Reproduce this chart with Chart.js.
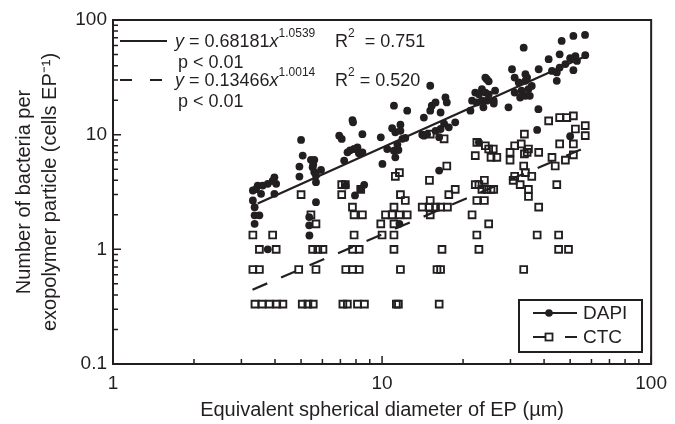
<!DOCTYPE html>
<html lang="en">
<head>
<meta charset="UTF-8">
<title>Bacteria per exopolymer particle</title>
<script src="https://cdn.jsdelivr.net/npm/chart.js"></script>
<style>
  html, body { margin: 0; padding: 0; background: #fff; }
  #wrap { width: 675px; height: 424px; }
</style>
</head>
<body>
<div id="wrap"><canvas id="chart" width="675" height="424"></canvas></div>
<script>
// DAPI counts (filled circles)
const dapiX = [
  3.31, 3.45, 3.60, 3.76, 3.98, 4.04, 3.55, 3.98, 3.31, 3.36, 3.36, 3.50, 3.36, 3.76, 3.40, 3.92,
  5.00, 5.07, 5.44, 5.60, 4.93, 5.52, 5.60, 5.93, 4.93, 5.68, 5.68, 5.68, 5.36, 5.36, 5.37, 5.55,
  6.93, 7.76, 7.80, 7.08, 8.45, 7.44, 7.87, 8.10, 8.20, 8.45, 7.23, 8.58, 8.33, 7.33, 7.93, 7.60,
  9.89, 10.03, 11.07, 12.4, 10.9, 11.7, 11.2, 11.7, 11.9, 12.2, 11.07, 11.5, 11.2, 10.45, 11.6, 11.4,
  15.1, 15.1, 15.3, 15.8, 17.2, 17.4, 16.5, 14.3, 14.1, 14.7, 15.8, 16.5, 17.7, 18.7, 16.3, 14.3, 16.3, 17.0,
  24.2, 24.5, 24.9, 22.2, 22.9, 23.5, 24.2, 24.9, 26.3, 21.6, 22.5, 23.5, 24.5, 26.0, 21.3, 23.8, 26.0, 29.5, 22.9,
  33.6, 30.4, 34.1, 31.1, 32.2, 34.1, 34.6, 36.0, 33.0, 31.1, 32.6, 34.1, 35.4, 35.0, 38.1, 37.7, 38.2,
  46.5, 51.4, 56.8, 45.7, 50.0, 52.3, 56.9, 41.6, 48.0, 42.8, 44.6, 45.7, 51.4, 44.6, 50.0, 53.0
];
const dapiY = [
  3.26, 3.60, 3.60, 3.73, 4.25, 3.73, 3.05, 3.05, 2.67, 2.33, 1.98, 1.98, 1.67, 1.00, 3.35, 3.95,
  9.0, 6.57, 6.03, 6.03, 5.27, 5.20, 4.70, 4.93, 4.31, 4.40, 3.85, 2.58, 1.91, 1.62, 1.32, 5.50,
  9.8, 13.4, 12.8, 9.18, 10.1, 7.01, 7.5, 7.75, 6.87, 7.01, 5.94, 3.65, 3.37, 3.60, 2.95, 7.30,
  9.48, 5.56, 17.9, 16.2, 11.4, 12.2, 10.5, 10.8, 9.2, 9.36, 7.25, 7.35, 6.35, 7.5, 1.67, 8.2,
  26.7, 16.2, 17.9, 19.1, 21.1, 19.1, 15.6, 14.1, 10.0, 10.1, 10.8, 11.2, 11.6, 12.8, 4.86, 9.8, 9.5, 12.5,
  31.5, 30.5, 29.2, 23.3, 22.5, 25.0, 23.3, 22.5, 24.2, 19.8, 19.1, 19.8, 19.8, 19.8, 16.2, 17.3, 18.7, 17.3, 8.6,
  57.4, 37.2, 33.7, 31.5, 28.5, 29.5, 31.5, 26.6, 24.2, 23.3, 21.1, 21.8, 21.8, 25.0, 16.7, 11.0, 37.2,
  65.7, 72.6, 74.1, 50.2, 46.4, 48.5, 49.3, 45.5, 41.3, 36.0, 34.9, 38.5, 36.5, 29.5, 9.7, 44.0
];

// CTC counts (open squares)
const ctcX = [
  3.37, 3.58, 3.81, 4.06, 4.28, 3.31, 3.50, 3.50, 4.04, 3.31, 3.92,
  5.05, 5.30, 5.55, 4.90, 5.68, 5.52, 5.77, 6.03, 5.44, 5.68, 5.00,
  7.15, 7.43, 8.10, 8.60, 7.33, 7.77, 8.22, 7.77, 8.22, 7.87, 7.87, 8.45, 7.76, 7.08, 7.08, 7.30, 8.33,
  11.3, 11.5, 11.7, 11.07, 10.0, 11.07, 9.89, 11.07, 10.3, 10.9, 11.6, 12.4, 11.07, 12.2, 11.7, 11.2, 11.6,
  16.3, 16.0, 16.5, 16.7, 15.1, 14.1, 15.0, 15.8, 16.5, 17.5, 15.1, 17.7, 18.7, 15.0, 17.4, 15.1, 17.0,
  22.9, 22.5, 24.9, 21.6, 22.5, 24.0, 23.5, 24.5, 25.4, 26.0, 22.2, 22.9, 24.0, 22.2, 25.4, 26.7, 22.5, 24.2, 24.9, 25.9,
  33.6, 37.7, 38.2, 35.0, 35.0, 32.6, 30.7, 31.1, 36.0, 34.1, 33.6, 29.9, 29.9, 34.6, 38.2, 31.1, 32.9, 35.0, 33.8, 33.8,
  45.3, 49.3, 45.3, 44.6, 44.0, 48.0, 42.8, 51.4, 45.7, 51.4, 41.6, 45.7, 48.6, 51.4, 56.9, 56.9, 52.3
];
const ctcY = [
  0.333, 0.333, 0.333, 0.333, 0.333, 0.667, 0.667, 1, 1, 1.333, 1.333,
  0.333, 0.333, 0.333, 0.667, 0.667, 1, 1, 1, 2, 1.667, 3,
  0.333, 0.333, 0.333, 0.333, 0.667, 0.667, 0.667, 1, 1, 1.333, 2, 2, 2.333, 3, 3.667, 3.667, 3.333,
  0.333, 0.333, 0.667, 1, 1.333, 1.333, 1.667, 1.667, 2, 2, 2, 2, 2.333, 2.667, 3, 4.333, 4.667,
  0.333, 0.667, 0.667, 1, 2, 2.333, 2.333, 2.333, 2.333, 2.333, 2.667, 3, 3.333, 4, 5.333, 10.1, 9.2,
  1, 1.333, 1.667, 2, 2.667, 2.667, 3.333, 3.333, 3.333, 3.333, 3.667, 3.667, 4, 6.57, 6.35, 6.35, 8.56, 8.0, 7.5, 7.5,
  0.667, 1.333, 2.333, 2.89, 3.333, 3.667, 4, 4.333, 4.333, 4.667, 5.333, 6.0, 7.0, 7.0, 7.0, 8.0, 8.3, 7.5, 10.1, 6.8,
  1, 1, 1.333, 3.667, 5.333, 6.0, 6.333, 6.667, 8.3, 8.3, 13.2, 14.1, 14.1, 14.6, 12.0, 9.8, 11.2
];

// regression lines: end points on y = 0.68181x^1.0539 and y = 0.13466x^1.0014
const dapiFitX = [3.45, 57.5];
const dapiFitY = [2.51, 48.8];
const ctcFitX = [3.3, 57.5];
const ctcFitY = [0.445, 7.79];

const xTicks = [1, 10, 100];
const yTicks = [0.1, 1, 10, 100];

const ink = '#231f20';
const fam = '"Liberation Sans", Arial, Helvetica, sans-serif';

function pts(xs, ys) {
  return xs.map((x, i) => ({ x: x, y: ys[i] }));
}

// draw a row of text pieces left to right
function runText(ctx, x, y, parts) {
  parts.forEach(p => {
    ctx.font = p.font;
    ctx.fillText(p.t, x, y + (p.dy || 0));
    x += ctx.measureText(p.t).width;
  });
  return x;
}

const decorations = {
  id: 'decorations',
  afterDatasetsDraw(chart) {
    const ctx = chart.ctx, a = chart.chartArea;
    const xs = chart.scales.x, ys = chart.scales.y;
    ctx.save();
    ctx.strokeStyle = ink;
    ctx.fillStyle = ink;

    // frame
    ctx.lineWidth = 2;
    ctx.strokeRect(a.left, a.top, a.right - a.left, a.bottom - a.top);

    // inward ticks on bottom and left axes
    ctx.lineWidth = 1.5;
    ctx.beginPath();
    for (let d = 1; d < 100; d *= 10) {
      for (let k = 1; k <= 10; k++) {
        const px = xs.getPixelForValue(d * k);
        const len = (k === 1 || k === 10) ? 8 : 5;
        ctx.moveTo(px, a.bottom);
        ctx.lineTo(px, a.bottom - len);
      }
    }
    for (let d = 0.1; d < 99; d *= 10) {
      for (let k = 1; k <= 10; k++) {
        const py = ys.getPixelForValue(d * k);
        const len = (k === 1 || k === 10) ? 8 : 5;
        ctx.moveTo(a.left, py);
        ctx.lineTo(a.left + len, py);
      }
    }
    ctx.stroke();

    // regression equations, top left
    const main = '18px ' + fam, ital = 'italic 18px ' + fam, sup = '12px ' + fam;
    ctx.textBaseline = 'middle';
    ctx.textAlign = 'left';

    ctx.lineWidth = 2;
    ctx.beginPath();
    ctx.moveTo(120, 41); ctx.lineTo(167, 41);
    ctx.stroke();
    runText(ctx, 175, 42, [
      { t: 'y', font: ital }, { t: ' = 0.68181', font: main },
      { t: 'x', font: ital }, { t: '1.0539', font: sup, dy: -8 }
    ]);
    runText(ctx, 335, 42, [
      { t: 'R', font: main }, { t: '2', font: sup, dy: -8 }, { t: '  = 0.751', font: main }
    ]);
    runText(ctx, 178, 63, [{ t: 'p < 0.01', font: main }]);

    ctx.setLineDash([12, 18]);
    ctx.beginPath();
    ctx.moveTo(120, 80); ctx.lineTo(167, 80);
    ctx.stroke();
    ctx.setLineDash([]);
    runText(ctx, 175, 81, [
      { t: 'y', font: ital }, { t: ' = 0.13466', font: main },
      { t: 'x', font: ital }, { t: '1.0014', font: sup, dy: -8 }
    ]);
    runText(ctx, 335, 81, [
      { t: 'R', font: main }, { t: '2', font: sup, dy: -8 }, { t: ' = 0.520', font: main }
    ]);
    runText(ctx, 178, 102, [{ t: 'p < 0.01', font: main }]);

    // legend box, bottom right inside plot
    ctx.lineWidth = 2;
    ctx.fillStyle = '#fff';
    ctx.fillRect(519, 300, 123, 52);
    ctx.strokeRect(519, 300, 123, 52);
    ctx.fillStyle = ink;
    ctx.beginPath();
    ctx.moveTo(533, 313); ctx.lineTo(577, 313);
    ctx.moveTo(533, 337); ctx.lineTo(545, 337);
    ctx.moveTo(565, 337); ctx.lineTo(577, 337);
    ctx.stroke();
    ctx.beginPath();
    ctx.arc(549, 313, 3.8, 0, Math.PI * 2);
    ctx.fill();
    ctx.lineWidth = 1.8;
    ctx.strokeRect(545.5, 333.5, 7, 7);
    ctx.font = '19px ' + fam;
    ctx.fillText('DAPI', 583, 314);
    ctx.fillText('CTC', 583, 338);

    ctx.restore();
  }
};

new Chart(document.getElementById('chart'), {
  type: 'scatter',
  data: {
    datasets: [
      {
        label: 'DAPI',
        data: pts(dapiX, dapiY),
        pointStyle: 'circle',
        pointRadius: 3.9,
        pointBackgroundColor: ink,
        pointBorderColor: ink,
        pointBorderWidth: 0
      },
      {
        label: 'CTC',
        data: pts(ctcX, ctcY),
        pointStyle: 'rect',
        pointRadius: 4.8,
        pointBackgroundColor: 'rgba(0,0,0,0)',
        pointBorderColor: ink,
        pointBorderWidth: 1.9
      },
      {
        label: 'DAPI fit',
        data: pts(dapiFitX, dapiFitY),
        showLine: true,
        pointRadius: 0,
        borderColor: ink,
        borderWidth: 2.2
      },
      {
        label: 'CTC fit',
        data: pts(ctcFitX, ctcFitY),
        showLine: true,
        pointRadius: 0,
        borderColor: ink,
        borderWidth: 2.2,
        borderDash: [16, 15]
      }
    ]
  },
  options: {
    responsive: false,
    animation: false,
    layout: { padding: { left: 0, right: 22, top: 20, bottom: 0 } },
    plugins: {
      legend: { display: false },
      tooltip: { enabled: false }
    },
    scales: {
      x: {
        type: 'logarithmic',
        min: 1,
        max: 100,
        afterBuildTicks: s => { s.ticks = xTicks.map(v => ({ value: v })); },
        afterFit: s => { s.height = 60; },
        grid: { display: false, drawTicks: false },
        border: { display: false },
        ticks: {
          color: ink,
          font: { family: fam, size: 19 },
          padding: 8,
          maxRotation: 0,
          callback: v => String(v)
        },
        title: {
          display: true,
          text: 'Equivalent spherical diameter of EP (\u00B5m)',
          color: ink,
          font: { family: fam, size: 20, lineHeight: 1.2 },
          padding: { top: 0, bottom: 2 }
        }
      },
      y: {
        type: 'logarithmic',
        min: 0.1,
        max: 100,
        afterBuildTicks: s => { s.ticks = yTicks.map(v => ({ value: v })); },
        afterFit: s => { s.width = 113; },
        grid: { display: false, drawTicks: false },
        border: { display: false },
        ticks: {
          color: ink,
          font: { family: fam, size: 19 },
          padding: 6,
          callback: v => String(v)
        },
        title: {
          display: true,
          text: ['Number of bacteria per', 'exopolymer particle (cells EP\u207B\u00B9)'],
          color: ink,
          font: { family: fam, size: 20, lineHeight: 1.3 },
          padding: { top: 11, bottom: 0 }
        }
      }
    }
  },
  plugins: [decorations]
});
</script>
</body>
</html>
